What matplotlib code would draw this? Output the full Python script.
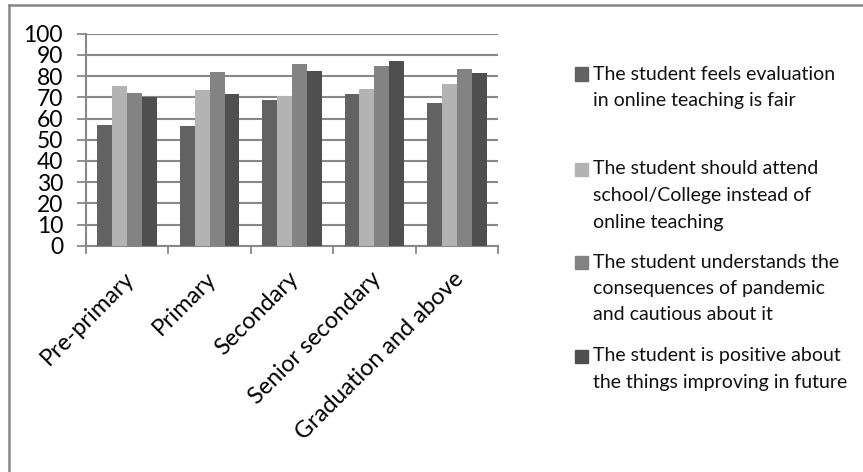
import matplotlib
matplotlib.use("Agg")
import matplotlib.pyplot as plt
import numpy as np
from matplotlib.lines import Line2D
from matplotlib.patches import Rectangle
from matplotlib.transforms import ScaledTranslation

plt.rcParams['font.family'] = ['Lato', 'DejaVu Sans']

categories = ["Pre-primary", "Primary", "Secondary", "Senior secondary", "Graduation and above"]
series_labels = [
    ["The student feels evaluation", "in online teaching is fair"],
    ["The student should attend", "school/College instead of", "online teaching"],
    ["The student understands the", "consequences of pandemic", "and cautious about it"],
    ["The student is positive about", "the things improving in future"],
]
evaluation_fair = [57, 56.5, 68.5, 71.5, 67.5]
attend_school = [75.5, 73.5, 70.5, 74, 76.5]
understands_pandemic = [72, 82, 85.5, 85, 83.5]
positive_future = [70, 71.5, 82.5, 87, 81.5]
series_values = [evaluation_fair, attend_school, understands_pandemic, positive_future]
colors = ["#626262", "#b3b3b3", "#838383", "#4f4f4f"]
yticks = list(range(0, 101, 10))

W, H = 863, 472
fig = plt.figure(figsize=(W / 100, H / 100), dpi=100)
ax = fig.add_axes([86 / W, 1 - 245.7 / H, (498 - 86) / W, (245.7 - 33.7) / H])

x = np.arange(len(categories))
bar_w = 0.181
n = len(series_values)
for i, (vals, col) in enumerate(zip(series_values, colors)):
    offs = (i - (n - 1) / 2) * bar_w
    ax.bar(x + offs, vals, width=bar_w, color=col, zorder=3, linewidth=0)

grid_col = "#888888"
ax.set_xlim(-0.5, len(categories) - 0.5)
ax.set_ylim(0, 100)
ax.set_yticks(yticks)
ax.set_yticklabels([str(t) for t in yticks], fontsize=16.5)
ax.yaxis.grid(True, color=grid_col, linewidth=1.5, zorder=0)
ax.tick_params(axis='y', length=6.5, width=1.3, color=grid_col, pad=10)

# category boundaries carry the x ticks; labels sit at the centres
ax.set_xticks(np.arange(len(categories) + 1) - 0.5)
ax.set_xticklabels([])
ax.tick_params(axis='x', which='major', length=6, width=1.3, color=grid_col)
ax.set_xticks(x, minor=True)
ax.set_xticklabels(categories, minor=True, rotation=45, ha='right',
                   rotation_mode='anchor', fontsize=16.8)
ax.tick_params(axis='x', which='minor', length=0, pad=16)
shift = ScaledTranslation(-4 / 100, 0, fig.dpi_scale_trans)
for lbl in ax.get_xticklabels(minor=True):
    lbl.set_transform(lbl.get_transform() + shift)

for side in ['top', 'right']:
    ax.spines[side].set_visible(False)
for side in ['left', 'bottom']:
    ax.spines[side].set_color(grid_col)
    ax.spines[side].set_linewidth(1.5)

# legend drawn on the right, first line of each entry aligned with its swatch
entry_y = [74, 169, 262, 356]
line_gap = 26.5
for lines, col, yc in zip(series_labels, colors, entry_y):
    fig.patches.append(Rectangle((575 / W, 1 - (yc + 6.5) / H), 13 / W, 13 / H,
                                 transform=fig.transFigure, color=col))
    for k, line in enumerate(lines):
        fig.text(593 / W, 1 - (yc + k * line_gap) / H, line, fontsize=14,
                 va='center', ha='left', color="#111111")

# outer chart frame (left and top edges)
frame_col = "#878787"
fig.add_artist(Line2D([8.5 / W, 8.5 / W], [0, 1 - 4.5 / H], transform=fig.transFigure,
                      color=frame_col, linewidth=1.8))
fig.add_artist(Line2D([8.5 / W, 1], [1 - 4.5 / H, 1 - 4.5 / H], transform=fig.transFigure,
                      color=frame_col, linewidth=1.8))

fig.savefig("out.png", dpi=100)
